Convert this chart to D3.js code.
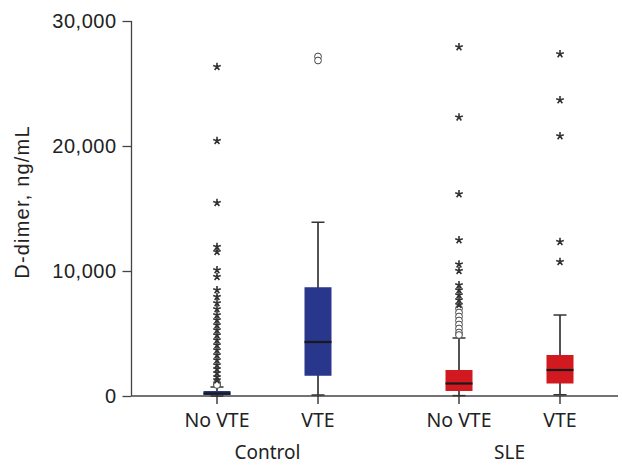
<!DOCTYPE html>
<html>
<head>
<meta charset="utf-8">
<script src="https://cdn.jsdelivr.net/npm/d3@7"></script>
<style>
  body { margin: 0; background: #fff; }
  text { fill: #222; }
</style>
</head>
<body>
<script>
'use strict';

// groups and sub categories on the x axis
const groups = ["Control", "SLE"];
const subGroups = ["No VTE", "VTE"];
const yTicks = [0, 10000, 20000, 30000];

// box stats per box: [lower whisker, Q1, median, Q3, upper whisker]
const boxKeys = ["Control|No VTE", "Control|VTE", "SLE|No VTE", "SLE|VTE"];
const boxStats = [
  [0, 80, 200, 400, 720],
  [80, 1620, 4320, 8700, 13900],
  [30, 400, 1000, 2080, 4640],
  [100, 1000, 2080, 3280, 6480]
];
const boxColors = ["#28368b", "#28368b", "#d2191f", "#d2191f"];

// extreme outliers (stars)
const starOutliers = [
  [26340, 20420, 15460, 11940, 11540, 10080, 9540, 8480, 7940, 7440, 6960, 6480,
   6080, 5680, 5280, 4880, 4480, 4080, 3680, 3280, 2880, 2480, 2160, 1840, 1520, 1280],
  [],
  [27920, 22300, 16160, 12480, 10540, 10020, 8880, 8480, 8080, 7680, 7300],
  [27360, 23680, 20800, 12340, 10740]
];
// mild outliers (circles)
const circleOutliers = [
  [1040, 960, 880],
  [27160, 26840],
  [7000, 6680, 6360, 6040, 5720, 5400, 5080, 4880],
  []
];

const W = 622, H = 465;
const svg = d3.select("body").append("svg")
  .attr("width", W)
  .attr("height", H);

const axisLeftX = 131.5;
const axisBottomY = 396;

const y = d3.scaleLinear().domain([0, 30000]).range([axisBottomY, 21]);
const xGroup = d3.scaleBand().domain(groups).range([146.5, 630.5]);
const xSub = d3.scalePoint().domain(subGroups).range([70.5, 171.5]);

function xPos(key) {
  const [g, s] = key.split("|");
  return xGroup(g) + xSub(s);
}

// five armed asterisk, like the SPSS extreme marker
const asterisk5 = {
  draw(context, size) {
    const r = Math.sqrt(size) / 2;
    for (let k = 0; k < 5; k++) {
      const a = -Math.PI / 2 + k * 2 * Math.PI / 5;
      context.moveTo(0, 0);
      context.lineTo(r * Math.cos(a), r * Math.sin(a));
    }
  }
};

const axisColor = "#444";

// y axis
const yAxis = d3.axisLeft(y)
  .tickValues(yTicks)
  .tickSize(9)
  .tickPadding(6)
  .tickFormat(d3.format(","));

const gy = svg.append("g")
  .attr("transform", "translate(" + axisLeftX + ",0)")
  .call(yAxis);
gy.select(".domain").attr("stroke", axisColor).attr("stroke-width", 1.3)
  .attr("d", "M0," + (y(30000)) + "V" + axisBottomY);
gy.selectAll(".tick line").attr("stroke", axisColor).attr("stroke-width", 1.3);
gy.selectAll(".tick text")
  .style("font-family", "'Liberation Sans', Arial, sans-serif")
  .style("font-size", "20px")
  .style("letter-spacing", "0.5px")
  .attr("fill", "#222");

// x axis line
svg.append("line")
  .attr("x1", axisLeftX).attr("x2", 618)
  .attr("y1", axisBottomY).attr("y2", axisBottomY)
  .attr("stroke", axisColor).attr("stroke-width", 1.3);

// x ticks and sub labels
boxKeys.forEach((k) => {
  const cx = xPos(k);
  svg.append("line")
    .attr("x1", cx).attr("x2", cx)
    .attr("y1", axisBottomY).attr("y2", axisBottomY + 8)
    .attr("stroke", "#222").attr("stroke-width", 1.3);
  svg.append("text")
    .attr("x", cx)
    .attr("y", 427)
    .attr("text-anchor", "middle")
    .style("font-family", "'Noto Sans', sans-serif")
    .style("font-size", "19.5px")
    .text(k.split("|")[1]);
});

// group labels
groups.forEach((g) => {
  svg.append("text")
    .attr("x", xGroup(g) + xGroup.bandwidth() / 2)
    .attr("y", 459)
    .attr("text-anchor", "middle")
    .style("font-family", "'Noto Sans', sans-serif")
    .style("font-size", "19px")
    .text(g);
});

// y axis title
svg.append("text")
  .attr("transform", "translate(29," + 202 + ")rotate(-90)")
  .attr("text-anchor", "middle")
  .style("font-family", "'Liberation Sans', Arial, sans-serif")
  .style("font-size", "20px")
  .style("letter-spacing", "1.2px")
  .text("D-dimer, ng/mL");

// boxes
const boxW = 27, capW = 13;
boxKeys.forEach((k, i) => {
  const cx = xPos(k);
  const [lo, q1, med, q3, hi] = boxStats[i];
  const g = svg.append("g");

  g.append("line")
    .attr("x1", cx).attr("x2", cx)
    .attr("y1", y(hi)).attr("y2", y(lo))
    .attr("stroke", "#1a1a1a").attr("stroke-width", 1.5);
  [lo, hi].forEach((v) => {
    g.append("line")
      .attr("x1", cx - capW / 2).attr("x2", cx + capW / 2)
      .attr("y1", y(v)).attr("y2", y(v))
      .attr("stroke", "#333").attr("stroke-width", 1.5);
  });
  g.append("rect")
    .attr("x", cx - boxW / 2)
    .attr("y", y(q3))
    .attr("width", boxW)
    .attr("height", y(q1) - y(q3))
    .attr("fill", boxColors[i]);
  g.append("line")
    .attr("x1", cx - boxW / 2).attr("x2", cx + boxW / 2)
    .attr("y1", y(med)).attr("y2", y(med))
    .attr("stroke", "#1a1a1a").attr("stroke-width", 2.2);

  // circles
  g.selectAll(".circ")
    .data(circleOutliers[i])
    .enter().append("circle")
      .attr("cx", cx)
      .attr("cy", (d) => y(d))
      .attr("r", 3.4)
      .attr("fill", "#fff")
      .attr("stroke", "#444")
      .attr("stroke-width", 1);

  // stars
  g.selectAll(".star")
    .data(starOutliers[i])
    .enter().append("path")
      .attr("transform", (d) => "translate(" + cx + "," + y(d) + ")")
      .attr("d", d3.symbol(asterisk5, 64))
      .attr("fill", "none")
      .attr("stroke", "#333")
      .attr("stroke-width", 1.6);
});
</script>
</body>
</html>
